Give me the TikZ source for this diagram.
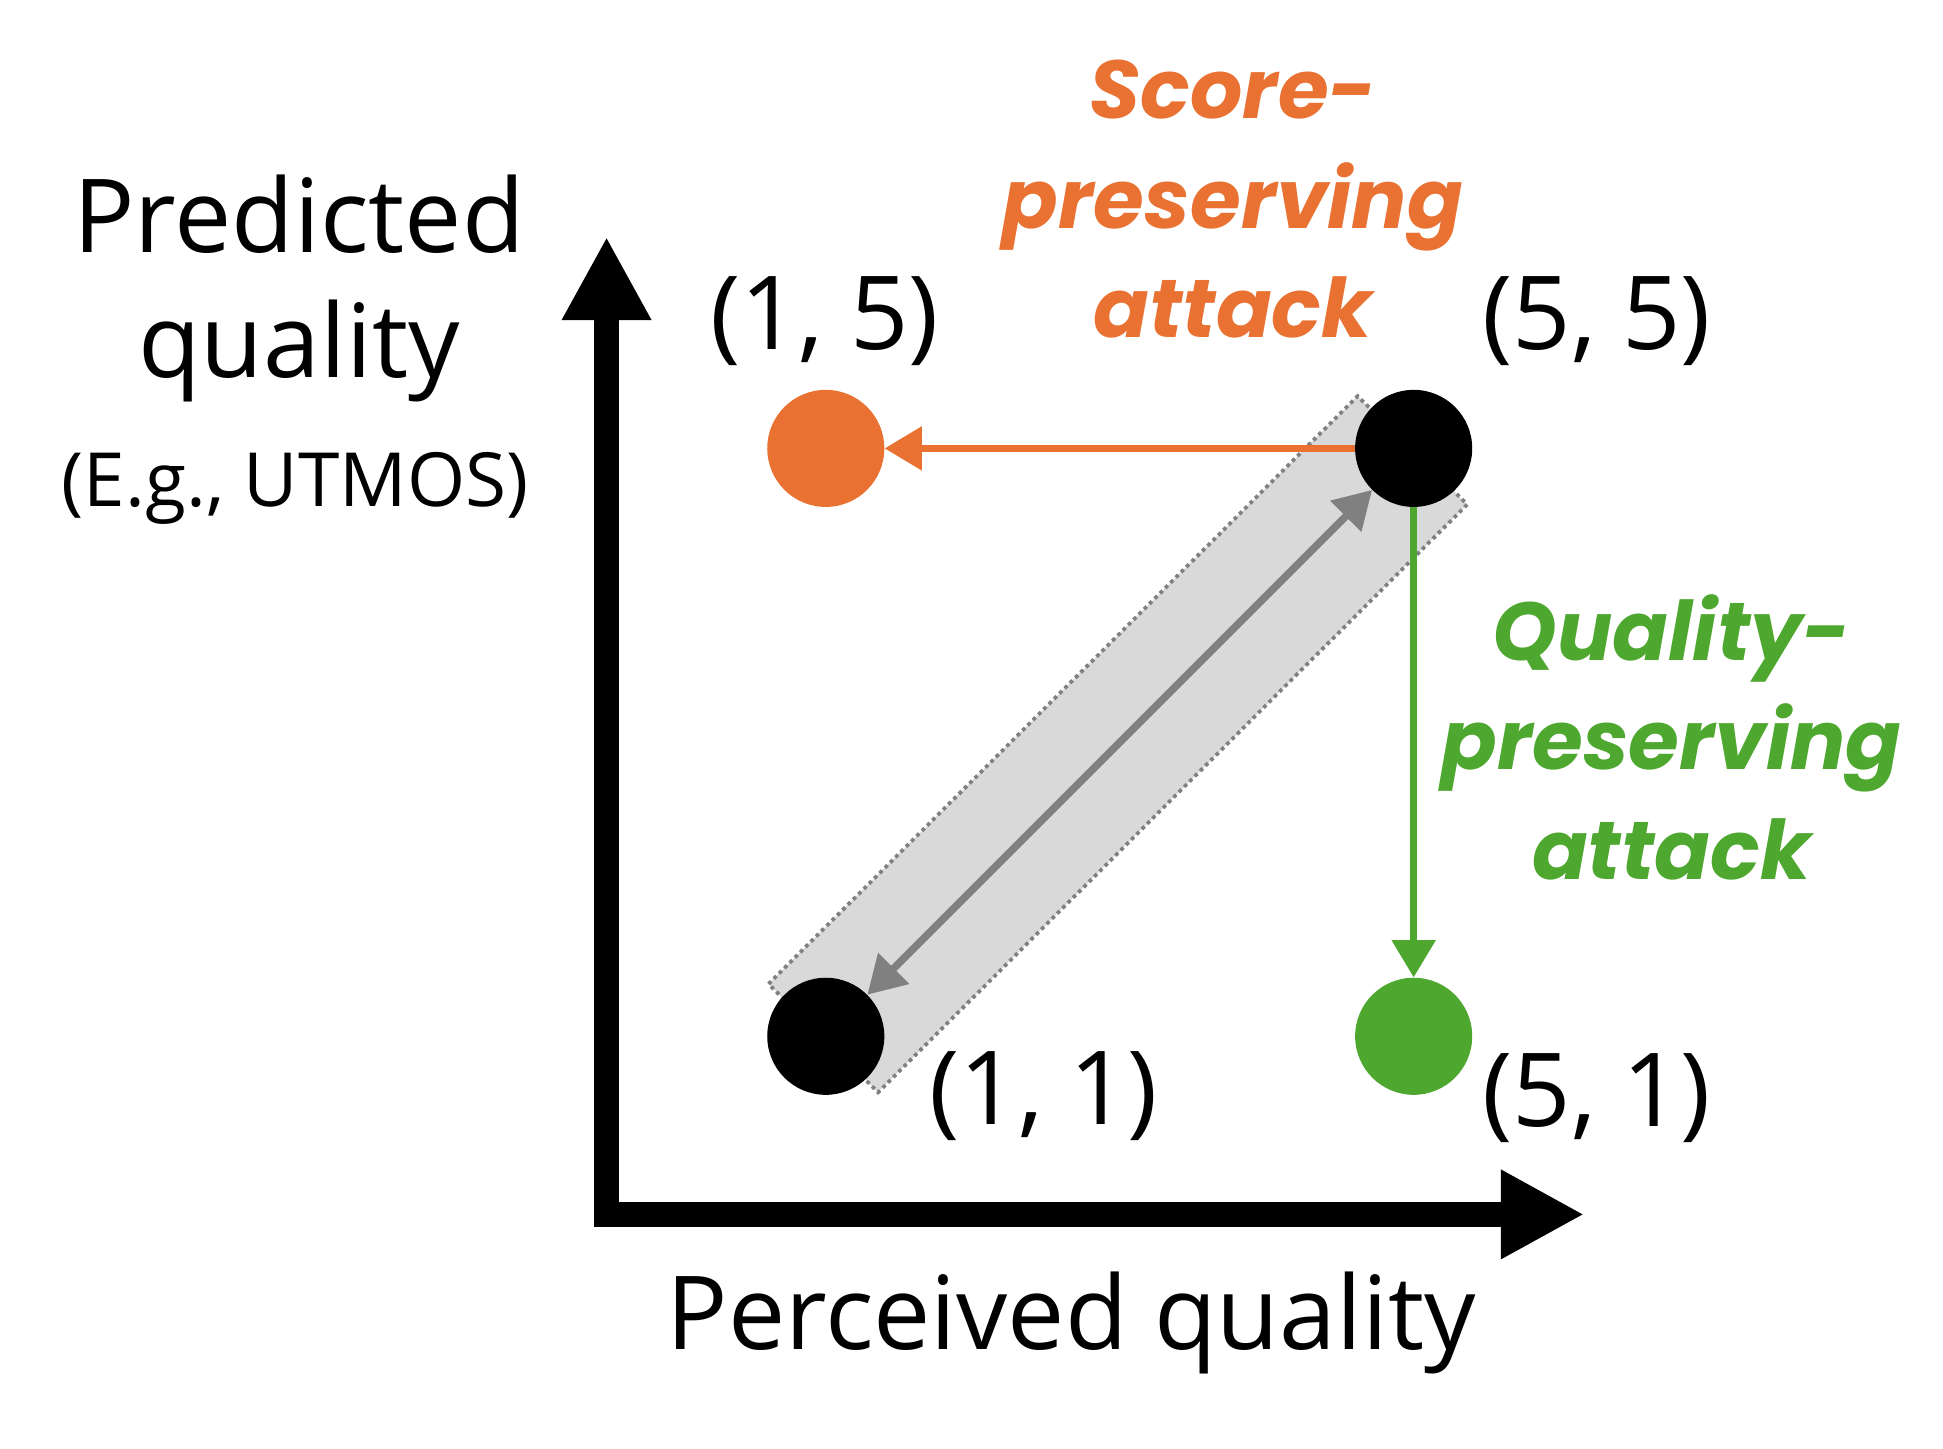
\documentclass[tikz,border=0pt]{standalone}
\usepackage{fontspec}
\setmainfont{Open Sans}
\newfontfamily\attk{Poppins}
\usetikzlibrary{arrows.meta}
\definecolor{org}{RGB}{233,113,50}
\definecolor{grn}{RGB}{78,167,46}
\tikzset{lbl/.style={font=\fontsize{82}{90}\selectfont},
atk/.style={font=\attk\bfseries\itshape\fontsize{66}{88}\selectfont,align=center},
dot/.style={circle,minimum size=94pt,inner sep=0pt}}
\begin{document}
\begin{tikzpicture}[x=1pt,y=-1pt]
\useasboundingbox (0,0) rectangle (1560,1163);
% band
\draw[gray,dashed,line width=3pt,fill=gray!30] (617,790) -- (1090,318) -- (1178,405) -- (705,877) -- cycle;
% axes
\draw[line width=20pt,-{Triangle[length=67pt,width=67pt]}] (487,985) -- (487,190);
\draw[line width=20pt,-{Triangle[length=67pt,width=67pt]}] (478,975) -- (1272,975);
\node[dot,fill=org] (a) at (663,360) {};
\node[dot,fill=black] (b) at (1135,360) {};
\node[dot,fill=black] (c) at (663,832) {};
\node[dot,fill=grn] (d) at (1135,832) {};
\draw[gray,line width=6pt,{Triangle[length=30pt,width=34pt]}-{Triangle[length=30pt,width=34pt]}] (c) -- (b);
\draw[org,line width=6pt,-{Triangle[length=30pt,width=34pt]}] (b) -- (a);
\draw[grn,line width=6pt,-{Triangle[length=30pt,width=34pt]}] (b) -- (d);
\node[lbl] (t1) at (240,172) {Predicted};
\node[lbl] (t2) at (240,282) {quality};
\node[font=\fontsize{60}{66}\selectfont] (t3) at (237,392) {(E.g., UTMOS)};
\node[lbl] (l15) at (662,258) {(1, 5)};
\node[lbl] (l55) at (1282,258) {(5, 5)};
\node[lbl] (l11) at (838,880) {(1, 1)};
\node[lbl] (l51) at (1282,882) {(5, 1)};
\node[lbl] (px) at (860,1062) {Perceived quality};
\node[atk,text=org] (sp) at (990,160) {Score-\\preserving\\attack};
\node[atk,text=grn] (qp) at (1342,592) {Quality-\\preserving\\attack};
\end{tikzpicture}
\end{document}
